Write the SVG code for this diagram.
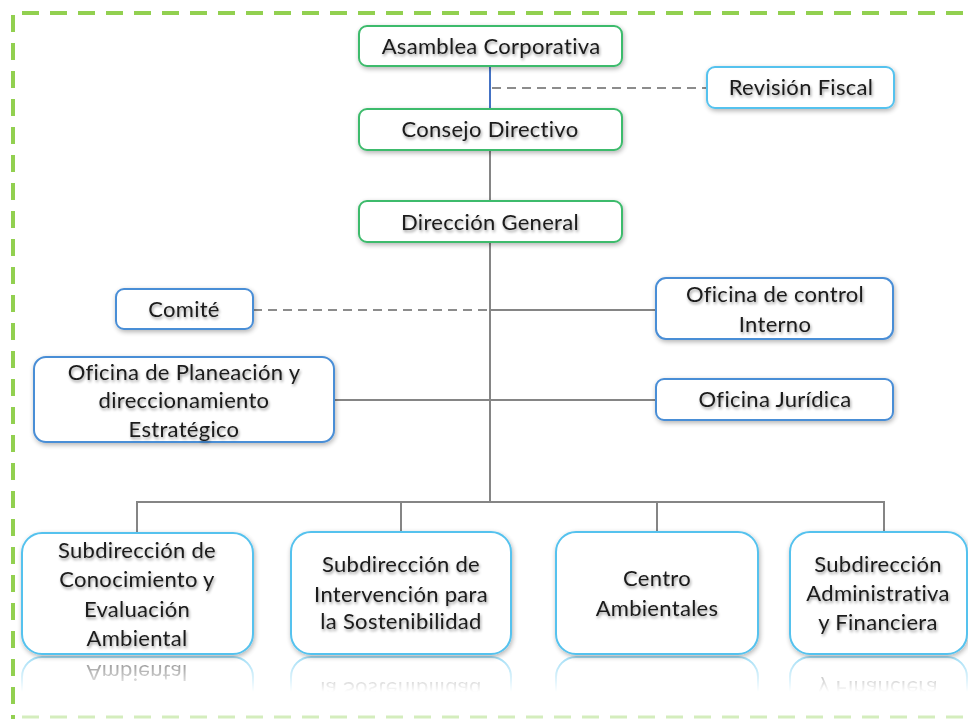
<svg xmlns="http://www.w3.org/2000/svg" width="968" height="719" viewBox="0 0 968 719">
<style>
.t{font-family:Lato,"Open Sans","Liberation Sans",sans-serif;font-size:22px;letter-spacing:0.3px;fill:#1a1a1a;text-anchor:middle;filter:url(#ts)}
.rt{font-family:Lato,"Open Sans","Liberation Sans",sans-serif;font-size:22px;letter-spacing:0.3px;fill:#1a1a1a;text-anchor:middle}
.bg{fill:#fff;stroke:#3dbb6c;stroke-width:2;filter:url(#bs)}
.bm{fill:#fff;stroke:#4a8ed6;stroke-width:2;filter:url(#bs)}
.bl{fill:#fff;stroke:#55c2ee;stroke-width:2;filter:url(#bs)}
.rb{fill:#fff;stroke:#55c2ee;stroke-width:2}
.c{stroke:#858585;stroke-width:2;fill:none}
.d{stroke:#8c8c8c;stroke-width:2;fill:none;stroke-dasharray:9 6}
.frame{stroke:#92d050;stroke-width:4;fill:none;stroke-dasharray:17 11}
</style>
<defs>
<filter id="ts" x="-10%" y="-40%" width="120%" height="180%">
<feGaussianBlur in="SourceAlpha" stdDeviation="1.5" result="b"/>
<feOffset in="b" dx="1" dy="2" result="o"/>
<feComponentTransfer in="o" result="s"><feFuncA type="linear" slope="0.4"/></feComponentTransfer>
<feMerge><feMergeNode in="s"/><feMergeNode in="SourceGraphic"/></feMerge>
</filter>
<filter id="bs" x="-10%" y="-20%" width="120%" height="140%">
<feGaussianBlur in="SourceAlpha" stdDeviation="2.5" result="b"/>
<feOffset in="b" dx="1" dy="2" result="o"/>
<feComponentTransfer in="o" result="s"><feFuncA type="linear" slope="0.3"/></feComponentTransfer>
<feMerge><feMergeNode in="s"/><feMergeNode in="SourceGraphic"/></feMerge>
</filter>
<linearGradient id="fg" gradientUnits="userSpaceOnUse" x1="0" y1="656" x2="0" y2="692">
<stop offset="0" stop-color="#fff" stop-opacity="0.55"/>
<stop offset="1" stop-color="#fff" stop-opacity="0"/>
</linearGradient>
<mask id="fm" maskUnits="userSpaceOnUse" x="0" y="655" width="968" height="45">
<rect x="0" y="655" width="968" height="45" fill="url(#fg)"/>
</mask>
</defs>
<rect width="968" height="719" fill="#fff"/>

<g id="frame">
<line class="frame" x1="22" y1="13" x2="968" y2="13"/>
<line class="frame" x1="13" y1="15" x2="13" y2="719"/>
<line x1="22" y1="717" x2="968" y2="717" stroke="#d4edbd" stroke-width="3" stroke-dasharray="17 11"/>
</g>

<g id="connectors">
<line x1="490" y1="66" x2="490" y2="109" stroke="#4472c4" stroke-width="2"/>
<line class="d" x1="492" y1="88" x2="707" y2="88"/>
<line class="c" x1="490" y1="150" x2="490" y2="201"/>
<line class="c" x1="490" y1="242" x2="490" y2="502"/>
<line class="d" x1="253" y1="310" x2="490" y2="310"/>
<line class="c" x1="490" y1="310" x2="656" y2="310"/>
<line class="c" x1="334" y1="400" x2="656" y2="400"/>
<polyline class="c" points="137,533 137,502 884,502 884,532"/>
<line class="c" x1="401" y1="502" x2="401" y2="532"/>
<line class="c" x1="657" y1="502" x2="657" y2="532"/>
</g>

<g id="asamblea">
<rect class="bg" x="359" y="26" width="263" height="40" rx="8"/>
<text class="t" x="491" y="54">Asamblea Corporativa</text>
</g>
<g id="revision">
<rect class="bl" x="707" y="67" width="187" height="41" rx="8"/>
<text class="t" x="801" y="95">Revisión Fiscal</text>
</g>
<g id="consejo">
<rect class="bg" x="359" y="109" width="263" height="41" rx="8"/>
<text class="t" x="490" y="137">Consejo Directivo</text>
</g>
<g id="direccion">
<rect class="bg" x="359" y="201" width="263" height="41" rx="8"/>
<text class="t" x="490" y="230">Dirección General</text>
</g>
<g id="comite">
<rect class="bm" x="116" y="289" width="137" height="40" rx="8"/>
<text class="t" x="184" y="317">Comité</text>
</g>
<g id="control">
<rect class="bm" x="656" y="278" width="237" height="61" rx="10"/>
<text class="t" x="775" y="302">Oficina de control</text>
<text class="t" x="775" y="332">Interno</text>
</g>
<g id="planeacion">
<rect class="bm" x="34" y="357" width="300" height="85" rx="12"/>
<text class="t" x="184" y="380">Oficina de Planeación y</text>
<text class="t" x="184" y="408">direccionamiento</text>
<text class="t" x="184" y="437">Estratégico</text>
</g>
<g id="juridica">
<rect class="bm" x="656" y="379" width="237" height="41" rx="8"/>
<text class="t" x="775" y="407">Oficina Jurídica</text>
</g>

<g id="conocimiento">
<g mask="url(#fm)"><g transform="translate(0,1311) scale(1,-1)">
<rect class="rb" x="22" y="533" width="231" height="121" rx="20"/>
<text class="rt" x="137" y="646">Ambiental</text>
</g></g>
<rect class="bl" x="22" y="533" width="231" height="121" rx="20"/>
<text class="t" x="137" y="558">Subdirección de</text>
<text class="t" x="137" y="587">Conocimiento y</text>
<text class="t" x="137" y="617">Evaluación</text>
<text class="t" x="137" y="646">Ambiental</text>
</g>
<g id="intervencion">
<g mask="url(#fm)"><g transform="translate(0,1311) scale(1,-1)">
<rect class="rb" x="291" y="532" width="220" height="122" rx="20"/>
<text class="rt" x="401" y="629">la Sostenibilidad</text>
</g></g>
<rect class="bl" x="291" y="532" width="220" height="122" rx="20"/>
<text class="t" x="401" y="572">Subdirección de</text>
<text class="t" x="401" y="602">Intervención para</text>
<text class="t" x="401" y="629">la Sostenibilidad</text>
</g>
<g id="centro">
<g mask="url(#fm)"><g transform="translate(0,1311) scale(1,-1)">
<rect class="rb" x="556" y="532" width="202" height="122" rx="20"/>
</g></g>
<rect class="bl" x="556" y="532" width="202" height="122" rx="20"/>
<text class="t" x="657" y="586">Centro</text>
<text class="t" x="657" y="616">Ambientales</text>
</g>
<g id="administrativa">
<g mask="url(#fm)"><g transform="translate(0,1311) scale(1,-1)">
<rect class="rb" x="790" y="532" width="177" height="122" rx="20"/>
<text class="rt" x="878" y="630">y Financiera</text>
</g></g>
<rect class="bl" x="790" y="532" width="177" height="122" rx="20"/>
<text class="t" x="878" y="572">Subdirección</text>
<text class="t" x="878" y="601">Administrativa</text>
<text class="t" x="878" y="630">y Financiera</text>
</g>
</svg>
